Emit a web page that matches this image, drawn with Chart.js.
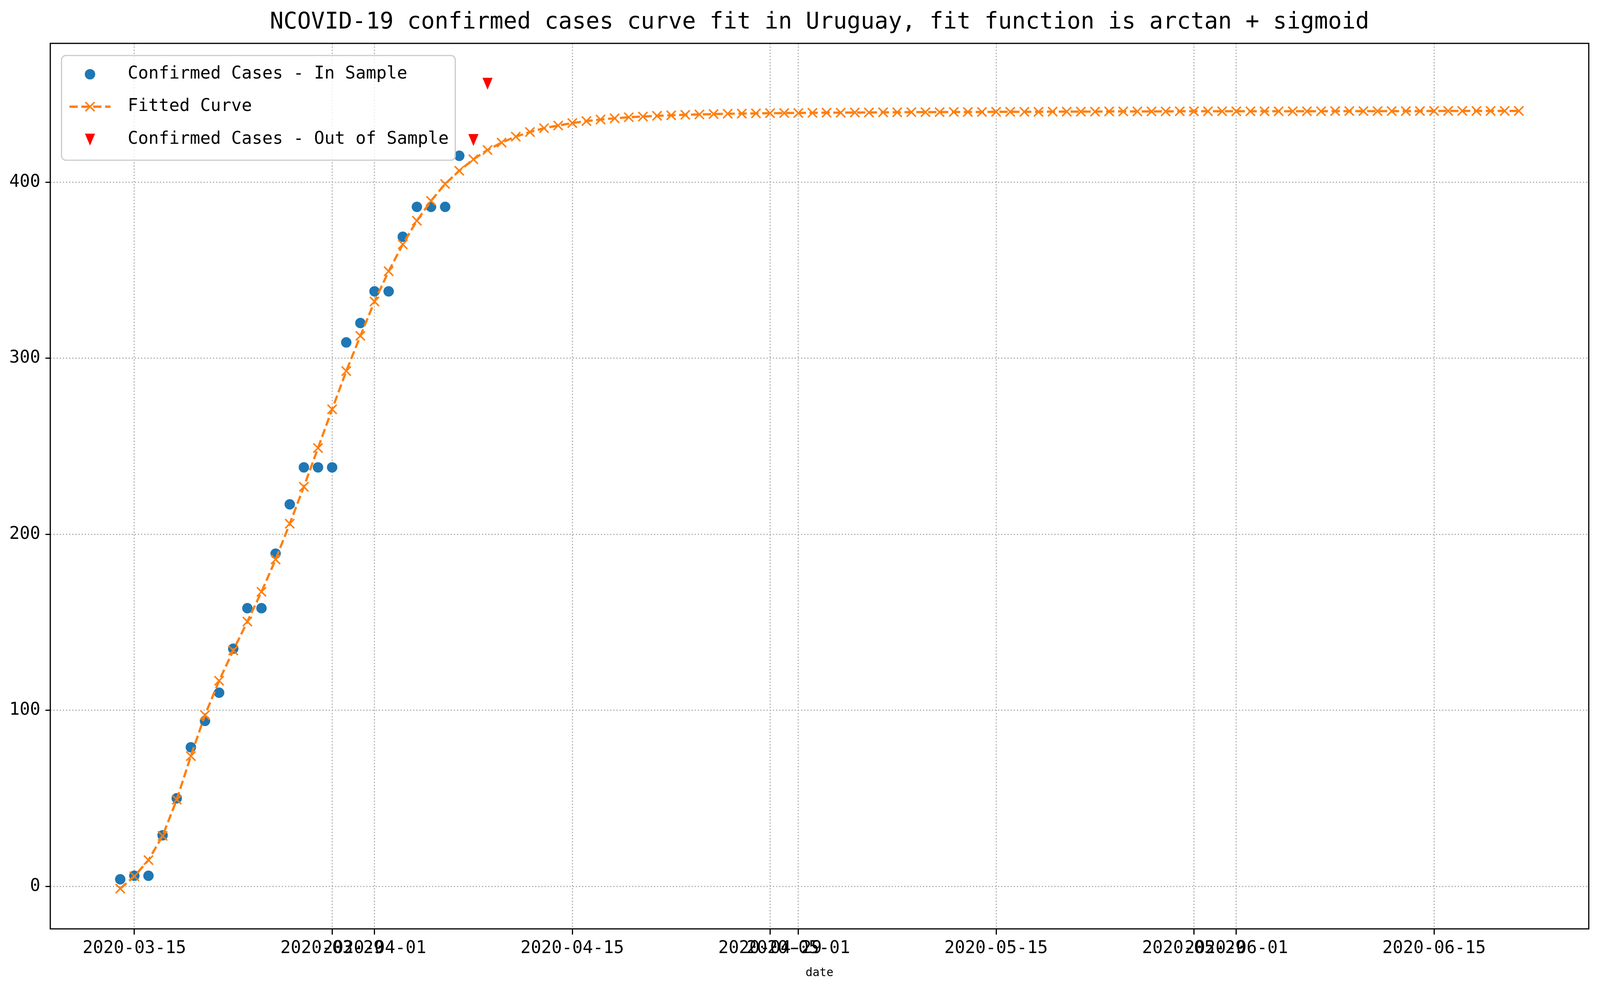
<!DOCTYPE html>
<html>
<head>
<meta charset="utf-8">
<title>NCOVID-19 Uruguay curve fit</title>
<script src="https://cdn.jsdelivr.net/npm/chart.js@4.4.1/dist/chart.umd.min.js"></script>
<style>
  html, body { margin: 0; padding: 0; background: #fff; overflow: hidden; }
  canvas { display: block; }
</style>
</head>
<body>
<canvas id="fitChart"></canvas>
<script>
/* ---------- data ---------- */
const TITLE = 'NCOVID-19 confirmed cases curve fit in Uruguay, fit function is arctan + sigmoid';

const inSampleDates = [
  '2020-03-14','2020-03-15','2020-03-16','2020-03-17','2020-03-18','2020-03-19','2020-03-20',
  '2020-03-21','2020-03-22','2020-03-23','2020-03-24','2020-03-25','2020-03-26','2020-03-27',
  '2020-03-28','2020-03-29','2020-03-30','2020-03-31','2020-04-01','2020-04-02','2020-04-03',
  '2020-04-04','2020-04-05','2020-04-06','2020-04-07'
];
const inSampleCases = [
  4, 6, 6, 29, 50, 79, 94,
  110, 135, 158, 158, 189, 217, 238,
  238, 238, 309, 320, 338, 338, 369,
  386, 386, 386, 415
];

const outSampleDates = ['2020-04-08', '2020-04-09'];
const outSampleCases = [424, 456];

// fitted curve: one value per day starting at fitStartDate
const fitStartDate = '2020-03-14';
const fittedCases = [
  -1.3, 5.7, 14.9, 28.7, 49.2, 74.0, 97.3, 116.8, 134.0, 150.4,
  167.3, 185.7, 206.0, 227.0, 249.0, 271.0, 292.7, 312.7, 332.2, 349.4,
  364.7, 378.1, 389.4, 399.0, 406.5, 413.0, 418.3, 422.5, 425.9, 428.5,
  430.7, 432.2, 433.6, 434.7, 435.6, 436.3, 436.9, 437.3, 437.7, 438.0,
  438.3, 438.5, 438.7, 438.9, 439.0, 439.1, 439.2, 439.3, 439.3, 439.4,
  439.5, 439.5, 439.6, 439.6, 439.7, 439.7, 439.8, 439.8, 439.8, 439.9,
  439.9, 439.9, 440.0, 440.0, 440.0, 440.0, 440.1, 440.1, 440.1, 440.1,
  440.2, 440.2, 440.2, 440.2, 440.2, 440.3, 440.3, 440.3, 440.3, 440.3,
  440.3, 440.3, 440.3, 440.3, 440.3, 440.3, 440.4, 440.4, 440.4, 440.4,
  440.4, 440.4, 440.4, 440.5, 440.5, 440.5, 440.5, 440.5, 440.5, 440.5
];

const xTickDates = [
  '2020-03-15','2020-03-29','2020-04-01','2020-04-15','2020-04-29',
  '2020-05-01','2020-05-15','2020-05-29','2020-06-01','2020-06-15'
];
const yTicks = [0, 100, 200, 300, 400];

/* ---------- sizing: layout numbers below are for a 4836x2536 picture ---------- */
const W = window.innerWidth, H = window.innerHeight;
const SX = W / 4836, SY = H / 2536, SM = Math.sqrt(SX * SY);
const sx = v => v * SX, sy = v => v * SY, sm = v => v * SM;
const cv = document.getElementById('fitChart');
cv.style.width = W + 'px';
cv.style.height = H + 'px';

/* ---------- helpers ---------- */
const MONO = "'DejaVu Sans Mono', monospace";
const BLUE = '#1f77b4', ORANGE = '#ff7f0e', RED = '#ff0000';
const DAY = 86400000;
const base = Date.parse(fitStartDate + 'T00:00:00Z');
function dayOf(s){ return (Date.parse(s + 'T00:00:00Z') - base) / DAY; }
function fmtDay(v){ return new Date(base + Math.round(v) * DAY).toISOString().slice(0, 10); }

// matplotlib-like autoscale with 5% margins
const lastDay = fittedCases.length - 1;
const xMin = -0.05 * lastDay, xMax = lastDay * 1.05;
const allY = inSampleCases.concat(outSampleCases, fittedCases);
const yLo = Math.min(...allY), yHi = Math.max(...allY);
const yMin = yLo - 0.05 * (yHi - yLo), yMax = yHi + 0.05 * (yHi - yLo);

// font sizes chosen so text widths match the reference
const titleSize = sx(69), tickSize = sx(52), legendSize = sx(52), xlabelSize = sx(35);
const LH = 1.2;

// 'v' marker image
const triW = sx(31), triH = sy(31);
const triCanvas = document.createElement('canvas');
triCanvas.width = Math.round(triW * 4);
triCanvas.height = Math.round(triH * 4);
(function(){
  const c = triCanvas.getContext('2d');
  const w = triCanvas.width, h = triCanvas.height;
  c.fillStyle = RED;
  c.beginPath(); c.moveTo(0, 0); c.lineTo(w, 0); c.lineTo(w / 2, h); c.closePath(); c.fill();
})();
const triImg = new Image(triW, triH);
triImg.src = triCanvas.toDataURL();

/* ---------- frame + legend box (drawn over the data like matplotlib) ---------- */
const framePlugin = {
  id: 'frameAndLegend',
  afterDatasetsDraw(chart){
    const {ctx, chartArea: a} = chart;
    ctx.save();
    ctx.lineWidth = sm(3.3);
    ctx.strokeStyle = '#000';
    ctx.strokeRect(a.left, a.top, a.right - a.left, a.bottom - a.top);

    // legend frame
    const bx = a.left + sx(34), by = a.top + sy(31), bw = sx(1190), bh = sy(268), r = sm(12);
    ctx.beginPath();
    ctx.moveTo(bx + r, by);
    ctx.arcTo(bx + bw, by, bx + bw, by + bh, r);
    ctx.arcTo(bx + bw, by + bh, bx, by + bh, r);
    ctx.arcTo(bx, by + bh, bx, by, r);
    ctx.arcTo(bx, by, bx + bw, by, r);
    ctx.closePath();
    ctx.fillStyle = 'rgba(255,255,255,0.8)';
    ctx.fill();
    ctx.strokeStyle = '#cccccc';
    ctx.lineWidth = sm(3.3);
    ctx.stroke();

    const mx = a.left + sx(120), tx = a.left + sx(234);
    const rows = [a.top + sy(79), a.top + sy(162), a.top + sy(246)];
    const ds = chart.data.datasets;

    // in sample
    ctx.fillStyle = BLUE;
    Chart.helpers.drawPoint(ctx, {pointStyle: 'circle', radius: sm(14.5), borderWidth: 0, rotation: 0}, mx, rows[0]);
    // fitted
    ctx.strokeStyle = ORANGE;
    ctx.lineWidth = sm(6.25);
    ctx.setLineDash([sm(23), sm(10)]);
    ctx.beginPath(); ctx.moveTo(mx - sx(62), rows[1]); ctx.lineTo(mx + sx(62), rows[1]); ctx.stroke();
    ctx.setLineDash([]);
    ctx.lineWidth = sm(4.2);
    Chart.helpers.drawPoint(ctx, {pointStyle: 'crossRot', radius: sm(18), borderWidth: sm(4.2), rotation: 0}, mx, rows[1]);
    // out of sample
    ctx.drawImage(triCanvas, mx - triW / 2, rows[2] - triH / 2, triW, triH);

    ctx.fillStyle = '#000';
    ctx.font = legendSize + 'px ' + MONO;
    ctx.textAlign = 'left';
    ctx.textBaseline = 'middle';
    ds.forEach((d, i) => ctx.fillText(d.label, tx, rows[i]));
    ctx.restore();
  }
};

/* ---------- chart ---------- */
Chart.defaults.color = '#000';
Chart.defaults.font.family = MONO;

const xGrid = {
  color: '#b0b0b0', lineWidth: sm(3.3),
  tickLength: sy(14.6), tickWidth: sm(3.3), tickColor: '#000', tickBorderDash: []
};
const yGrid = {
  color: '#b0b0b0', lineWidth: sm(3.3),
  tickLength: sx(14.6), tickWidth: sm(3.3), tickColor: '#000', tickBorderDash: []
};
const gridDash = [sm(3.3), sm(5.4)];

const titlePadTop = sy(58) - titleSize * LH / 2;
const titlePadBottom = sy(111) - titlePadTop - titleSize * LH;
const xTickPad = sy(2427.5) - sy(2377) - sy(14.6) - tickSize * LH / 2;
const xLabelPadBottom = H - sy(2490) - xlabelSize * LH / 2;

function build(){
  new Chart(cv, {
    type: 'scatter',
    data: {
      datasets: [
        {
          label: 'Confirmed Cases - In Sample',
          data: inSampleDates.map((d, i) => ({x: dayOf(d), y: inSampleCases[i]})),
          pointStyle: 'circle',
          pointRadius: sm(14.5),
          pointBorderWidth: 0,
          pointBackgroundColor: BLUE,
          pointBorderColor: BLUE,
          order: 3
        },
        {
          label: 'Fitted Curve',
          data: fittedCases.map((v, i) => ({x: i, y: v})),
          showLine: true,
          borderColor: ORANGE,
          borderWidth: sm(6.25),
          borderDash: [sm(23), sm(10)],
          tension: 0,
          pointStyle: 'crossRot',
          pointRadius: sm(18),
          pointBorderWidth: sm(4.2),
          pointBorderColor: ORANGE,
          pointBackgroundColor: ORANGE,
          order: 2
        },
        {
          label: 'Confirmed Cases - Out of Sample',
          data: outSampleDates.map((d, i) => ({x: dayOf(d), y: outSampleCases[i]})),
          pointStyle: triImg,
          pointRadius: sm(15),
          order: 1
        }
      ]
    },
    options: {
      responsive: false,
      animation: false,
      events: [],
      layout: { padding: { left: 0, right: W - sx(4802), top: 0, bottom: 0 } },
      plugins: {
        legend: { display: false },
        tooltip: { enabled: false },
        title: {
          display: true,
          text: TITLE,
          fullSize: false,
          color: '#000',
          font: { family: MONO, size: titleSize, weight: 'normal', lineHeight: LH },
          padding: { top: titlePadTop, bottom: titlePadBottom }
        }
      },
      scales: {
        x: {
          type: 'linear',
          min: xMin,
          max: xMax,
          afterBuildTicks: s => { s.ticks = xTickDates.map(d => ({value: dayOf(d)})); },
          afterFit: s => { s.height = H - sy(2377); },
          ticks: {
            autoSkip: false,
            maxRotation: 0,
            minRotation: 0,
            padding: xTickPad,
            font: { family: MONO, size: tickSize, lineHeight: LH },
            callback: v => fmtDay(v)
          },
          grid: xGrid,
          border: { display: false, dash: gridDash },
          title: {
            display: true,
            text: 'date',
            font: { family: MONO, size: xlabelSize, lineHeight: LH },
            padding: { top: 0, bottom: xLabelPadBottom }
          }
        },
        y: {
          min: yMin,
          max: yMax,
          afterBuildTicks: s => { s.ticks = yTicks.map(v => ({value: v})); },
          afterFit: s => { s.width = sx(152); },
          ticks: {
            padding: sx(15.6),
            font: { family: MONO, size: tickSize, lineHeight: LH },
            callback: v => String(v)
          },
          grid: yGrid,
          border: { display: false, dash: gridDash }
        }
      }
    },
    plugins: [framePlugin]
  });
}

cv.width = W; cv.height = H;
if (triImg.complete) build(); else triImg.onload = build;
</script>
</body>
</html>
